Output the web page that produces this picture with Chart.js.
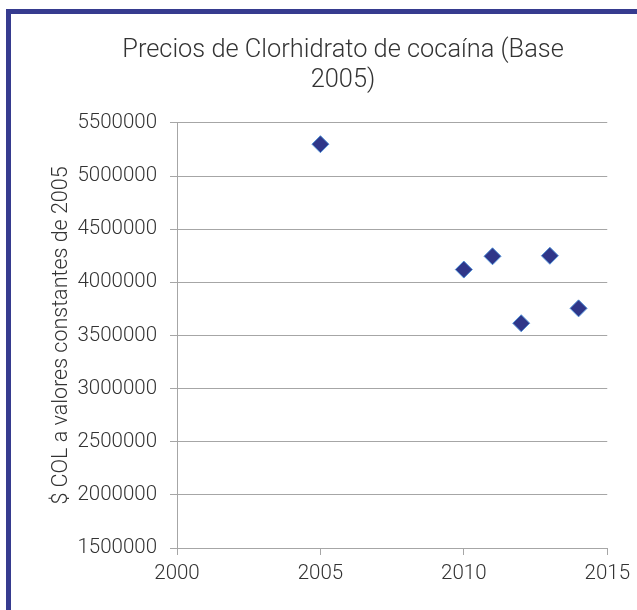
<!DOCTYPE html>
<html>
<head>
<meta charset="utf-8">
<script src="https://cdn.jsdelivr.net/npm/chart.js@4/dist/chart.umd.min.js"></script>
<style>
    body { margin: 0; background: #fff; }
    #marco {
        position: absolute; left: 6px; top: 9px; width: 700px; height: 700px;
        border-left: 5px solid #363b8f; border-top: 5px solid #363b8f;
        pointer-events: none;
    }
    #preciosChart { position: absolute; left: 0; top: 0; }
</style>
</head>
<body>
<div id="marco"></div>
<canvas id="preciosChart" width="637" height="610"></canvas>
<script>
// Datos del gráfico
const anios = [2005, 2010, 2011, 2012, 2013, 2014];
const precios = [5300000, 4120000, 4245000, 3615000, 4250000, 3755000];
const tituloLineas = ['Precios de Clorhidrato de cocaína (Base', '2005)'];
const tituloEjeY = '$ COL a valores constantes de 2005';

const gris = '#a6a6a6';
const texto = '#333333';

// Gráfico de Precios
const ctx = document.getElementById('preciosChart').getContext('2d');
new Chart(ctx, {
    type: 'scatter',
    data: {
        datasets: [{
            data: anios.map((a, i) => ({ x: a, y: precios[i] })),
            pointStyle: 'rectRot',
            pointRadius: 8.5,
            pointHoverRadius: 8.5,
            backgroundColor: '#2f3689',
            borderColor: '#4f8fd6',
            borderWidth: 1
        }]
    },
    options: {
        responsive: false,
        animation: false,
        devicePixelRatio: 1,
        layout: {
            padding: { left: 78, right: 29, top: 0, bottom: 0 }
        },
        font: { family: 'Roboto', weight: 300 },
        color: texto,
        scales: {
            x: {
                type: 'linear',
                min: 2000,
                max: 2015,
                ticks: {
                    stepSize: 5,
                    padding: 7,
                    color: texto,
                    font: { family: 'Roboto', size: 20.5, weight: 300 },
                    callback: v => String(v)
                },
                grid: { drawOnChartArea: false, tickLength: 7, color: gris },
                border: { color: gris },
                afterFit: scale => { scale.height = 62; }
            },
            y: {
                min: 1500000,
                max: 5500000,
                ticks: {
                    stepSize: 500000,
                    padding: 13,
                    color: texto,
                    font: { family: 'Roboto', size: 20.5, weight: 300 },
                    callback: v => String(v)
                },
                grid: { tickLength: 7, color: gris },
                border: { color: gris },
                title: {
                    display: true,
                    text: tituloEjeY,
                    color: texto,
                    font: { family: 'Roboto', size: 21.5, weight: 300 },
                    padding: { top: -29, bottom: 0 }
                },
                afterFit: scale => { scale.width = 99; }
            }
        },
        plugins: {
            legend: { display: false },
            tooltip: { enabled: false },
            title: {
                display: true,
                text: tituloLineas,
                color: texto,
                font: { family: 'Roboto', size: 25.4, weight: 300, lineHeight: 1.16 },
                padding: { top: 36, bottom: 28 }
            }
        }
    }
});
</script>
</body>
</html>
